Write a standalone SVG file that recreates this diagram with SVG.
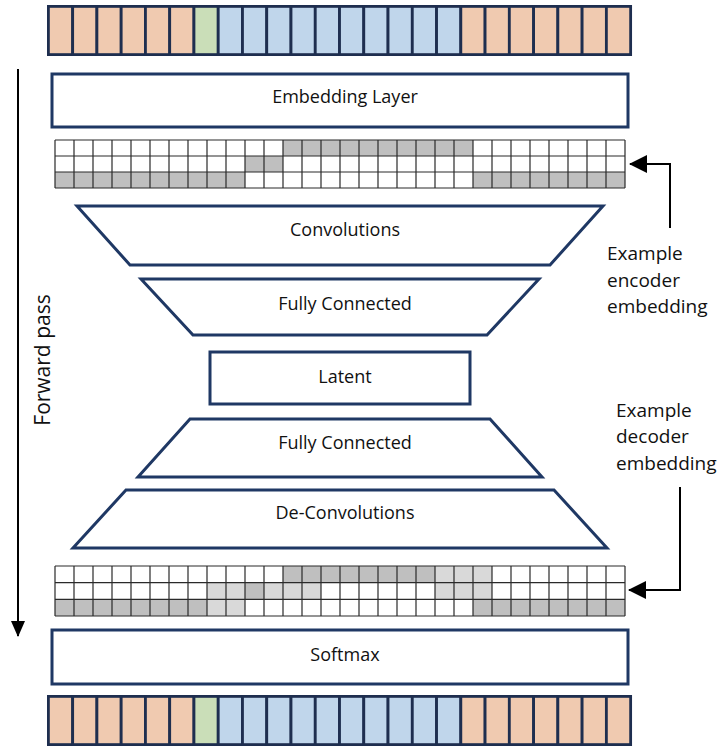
<svg xmlns="http://www.w3.org/2000/svg" width="720" height="747" viewBox="0 0 720 747">
<style>
.box{fill:#fff;stroke:#1F3864;stroke-width:3}
.lbl{font-family:"Open Sans","Liberation Sans",sans-serif;font-size:18px;fill:#111;text-anchor:middle}
.note{font-family:"Open Sans","Liberation Sans",sans-serif;font-size:19px;fill:#111}
.or{fill:#F0CAB0;stroke:#1E2E4F;stroke-width:2.8}
.gr{fill:#CADEB8;stroke:#1E2E4F;stroke-width:2.8}
.bl{fill:#C0D6EB;stroke:#1E2E4F;stroke-width:2.8}
.dk{fill:#BFBFBF}
.lt{fill:#D9D9D9}
.gl{fill:none;stroke:#2a2a2a;stroke-width:1.2}
.con{fill:none;stroke:#000;stroke-width:2}
</style>
<defs>
<marker id="ah" viewBox="0 0 18 18" refX="17" refY="9" markerWidth="18" markerHeight="18" markerUnits="userSpaceOnUse" orient="auto">
<path d="M0,0 L18,9 L0,18 z" fill="#000"/>
</marker>
<marker id="ahs" viewBox="0 0 16 14" refX="15" refY="7" markerWidth="16" markerHeight="14" markerUnits="userSpaceOnUse" orient="auto">
<path d="M0,0 L16,7 L0,14 z" fill="#000"/>
</marker>
<g id="bar">
<rect class="or" x="48.4" y="6.4" width="24.26" height="48.2"/>
<rect class="or" x="72.66" y="6.4" width="24.26" height="48.2"/>
<rect class="or" x="96.92" y="6.4" width="24.26" height="48.2"/>
<rect class="or" x="121.18" y="6.4" width="24.26" height="48.2"/>
<rect class="or" x="145.44" y="6.4" width="24.26" height="48.2"/>
<rect class="or" x="169.7" y="6.4" width="24.26" height="48.2"/>
<rect class="gr" x="193.96" y="6.4" width="24.26" height="48.2"/>
<rect class="bl" x="218.22" y="6.4" width="24.26" height="48.2"/>
<rect class="bl" x="242.48" y="6.4" width="24.26" height="48.2"/>
<rect class="bl" x="266.74" y="6.4" width="24.26" height="48.2"/>
<rect class="bl" x="291" y="6.4" width="24.26" height="48.2"/>
<rect class="bl" x="315.26" y="6.4" width="24.26" height="48.2"/>
<rect class="bl" x="339.52" y="6.4" width="24.26" height="48.2"/>
<rect class="bl" x="363.78" y="6.4" width="24.26" height="48.2"/>
<rect class="bl" x="388.04" y="6.4" width="24.26" height="48.2"/>
<rect class="bl" x="412.3" y="6.4" width="24.26" height="48.2"/>
<rect class="bl" x="436.56" y="6.4" width="24.26" height="48.2"/>
<rect class="or" x="460.82" y="6.4" width="24.26" height="48.2"/>
<rect class="or" x="485.08" y="6.4" width="24.26" height="48.2"/>
<rect class="or" x="509.34" y="6.4" width="24.26" height="48.2"/>
<rect class="or" x="533.6" y="6.4" width="24.26" height="48.2"/>
<rect class="or" x="557.86" y="6.4" width="24.26" height="48.2"/>
<rect class="or" x="582.12" y="6.4" width="24.26" height="48.2"/>
<rect class="or" x="606.38" y="6.4" width="24.26" height="48.2"/>
</g>
</defs>

<g id="input-tokens"><use href="#bar"/></g>

<g id="embedding-layer">
<rect class="box" x="52" y="74" width="576" height="53"/>
<text class="lbl" x="345" y="103">Embedding Layer</text>
</g>

<g id="encoder-embedding">
<rect x="55" y="140" width="570" height="48" fill="#fff"/>
<rect class="dk" x="283" y="140" width="190" height="16"/>
<rect class="dk" x="245" y="156" width="38" height="16"/>
<rect class="dk" x="55" y="172" width="190" height="16"/>
<rect class="dk" x="473" y="172" width="152" height="16"/>
<path class="gl" d="M55,140H625M55,156H625M55,172H625M55,188H625M55,140V188M74,140V188M93,140V188M112,140V188M131,140V188M150,140V188M169,140V188M188,140V188M207,140V188M226,140V188M245,140V188M264,140V188M283,140V188M302,140V188M321,140V188M340,140V188M359,140V188M378,140V188M397,140V188M416,140V188M435,140V188M454,140V188M473,140V188M492,140V188M511,140V188M530,140V188M549,140V188M568,140V188M587,140V188M606,140V188M625,140V188"/>
</g>

<g id="convolutions">
<polygon class="box" points="77,206 603,206 550,265 130,265"/>
<text class="lbl" x="345" y="236">Convolutions</text>
</g>

<g id="fc-encoder">
<polygon class="box" points="141,279 539,279 487,335 193,335"/>
<text class="lbl" x="345" y="310">Fully Connected</text>
</g>

<g id="latent">
<rect class="box" x="210" y="352" width="260" height="52"/>
<text class="lbl" x="345" y="383">Latent</text>
</g>

<g id="fc-decoder">
<polygon class="box" points="190,419 490,419 542,477 138,477"/>
<text class="lbl" x="345" y="449">Fully Connected</text>
</g>

<g id="deconvolutions">
<polygon class="box" points="126,490 554,490 607,548 73,548"/>
<text class="lbl" x="345" y="519">De-Convolutions</text>
</g>

<g id="decoder-embedding">
<rect x="55" y="566" width="570" height="50" fill="#fff"/>
<rect class="dk" x="283" y="566" width="152" height="16.67"/>
<rect class="lt" x="435" y="566" width="57" height="16.67"/>
<rect class="lt" x="207" y="582.67" width="38" height="16.67"/>
<rect class="dk" x="245" y="582.67" width="19" height="16.67"/>
<rect class="lt" x="264" y="582.67" width="57" height="16.67"/>
<rect class="lt" x="435" y="582.67" width="57" height="16.67"/>
<rect class="dk" x="55" y="599.33" width="152" height="16.67"/>
<rect class="lt" x="207" y="599.33" width="38" height="16.67"/>
<rect class="dk" x="473" y="599.33" width="152" height="16.67"/>
<path class="gl" d="M55,566H625M55,582.67H625M55,599.33H625M55,616H625M55,566V616M74,566V616M93,566V616M112,566V616M131,566V616M150,566V616M169,566V616M188,566V616M207,566V616M226,566V616M245,566V616M264,566V616M283,566V616M302,566V616M321,566V616M340,566V616M359,566V616M378,566V616M397,566V616M416,566V616M435,566V616M454,566V616M473,566V616M492,566V616M511,566V616M530,566V616M549,566V616M568,566V616M587,566V616M606,566V616M625,566V616"/>
</g>

<g id="softmax">
<rect class="box" x="52" y="630" width="576" height="54"/>
<text class="lbl" x="345" y="661">Softmax</text>
</g>

<g id="output-tokens"><use href="#bar" y="690"/></g>

<g id="forward-pass-label">
<text class="note" style="font-size:21px" transform="translate(50,360) rotate(-90)" text-anchor="middle">Forward pass</text>
</g>

<g id="encoder-note">
<text class="note" x="607" y="260">Example</text>
<text class="note" x="607" y="287">encoder</text>
<text class="note" x="607" y="313">embedding</text>
</g>

<g id="decoder-note">
<text class="note" x="616" y="417">Example</text>
<text class="note" x="616" y="443">decoder</text>
<text class="note" x="616" y="470">embedding</text>
</g>

<g id="connectors">
<path class="con" d="M18,69 V636" marker-end="url(#ahs)"/>
<path class="con" d="M670,228 V164 H630" marker-end="url(#ah)"/>
<path class="con" d="M680,487 V590 H629" marker-end="url(#ah)"/>
</g>
</svg>
